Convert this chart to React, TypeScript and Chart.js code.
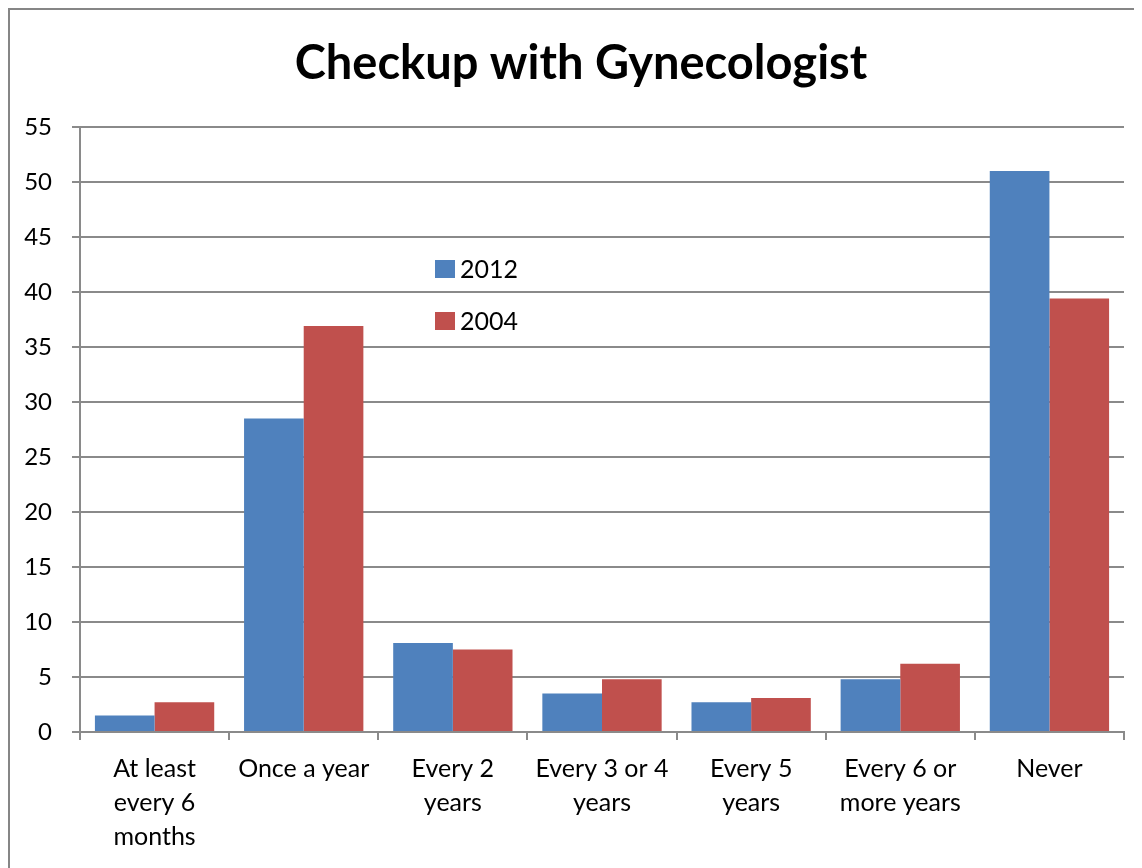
import React, { useEffect, useRef } from "react";
import { Chart, registerables } from "chart.js";

Chart.register(...registerables);

const chartTitle = "Checkup with Gynecologist";
const categories: string[][] = [
  ["At least", "every 6", "months"],
  ["Once a year"],
  ["Every 2", "years"],
  ["Every 3 or 4", "years"],
  ["Every 5", "years"],
  ["Every 6 or", "more years"],
  ["Never"],
];
const seriesNames = ["2012", "2004"];
const values2012 = [1.5, 28.5, 8.1, 3.5, 2.7, 4.8, 51.0];
const values2004 = [2.7, 36.9, 7.5, 4.8, 3.1, 6.2, 39.4];
const seriesColors = ["#4F81BD", "#C0504D"];
const yMin = 0;
const yMax = 55;
const yStep = 5;

const FONT = "Lato, 'Open Sans', sans-serif";
const GRID = "#8a8a8a";

const decorPlugin = {
  id: "decor",
  beforeDraw(chart: any) {
    const ctx = chart.ctx;
    ctx.save();
    ctx.fillStyle = "#ffffff";
    ctx.fillRect(0, 0, chart.width, chart.height);
    ctx.restore();
  },
  afterDraw(chart: any) {
    const ctx = chart.ctx;
    const area = chart.chartArea;
    ctx.save();
    // outer frame (only top & left edges are inside the picture)
    ctx.strokeStyle = "#868686";
    ctx.lineWidth = 2;
    ctx.beginPath();
    ctx.moveTo(1, chart.height);
    ctx.lineTo(1, 1);
    ctx.lineTo(chart.width, 1);
    ctx.stroke();
    // title
    ctx.fillStyle = "#000";
    ctx.font = `bold 47px ${FONT}`;
    ctx.textAlign = "center";
    ctx.textBaseline = "middle";
    ctx.fillText(chartTitle, 573, 56);
    // legend
    ctx.font = `25px ${FONT}`;
    ctx.textAlign = "left";
    chart.data.datasets.forEach((ds: any, i: number) => {
      const cy = area.top + 142 + i * 52;
      const bx = area.left + 355;
      ctx.fillStyle = ds.backgroundColor;
      ctx.fillRect(bx, cy - 9, 20, 18);
      ctx.fillStyle = "#000";
      ctx.fillText(ds.label, bx + 25, cy + 1);
    });
    ctx.restore();
  },
};

export default function App() {
  const ref = useRef<HTMLCanvasElement>(null);
  useEffect(() => {
    const prevOverflow = document.body.style.overflow;
    document.body.style.overflow = "hidden";
    if (!ref.current) return;
    const chart = new Chart(ref.current, {
      type: "bar",
      data: {
        labels: categories,
        datasets: [
          { label: seriesNames[0], data: values2012, backgroundColor: seriesColors[0] },
          { label: seriesNames[1], data: values2004, backgroundColor: seriesColors[1] },
        ],
      },
      options: {
        animation: false,
        responsive: false,
        layout: { padding: { top: 119, right: 10, left: 0, bottom: 0 } },
        datasets: { bar: { categoryPercentage: 0.8, barPercentage: 1 } },
        plugins: {
          legend: { display: false },
          title: { display: false },
          tooltip: { enabled: false },
        },
        scales: {
          x: {
            afterFit: (s: any) => { s.height = 136; },
            grid: {
              display: true,
              drawOnChartArea: false,
              drawTicks: true,
              tickLength: 8,
              color: GRID,
              lineWidth: 2,
              offset: true,
            },
            border: { color: GRID, width: 2 },
            ticks: {
              color: "#000",
              font: { family: FONT, size: 25, lineHeight: 1.36 },
              padding: 12,
              maxRotation: 0,
              autoSkip: false,
            },
          },
          y: {
            min: yMin,
            max: yMax,
            afterFit: (s: any) => { s.width = 72; },
            grid: { color: GRID, lineWidth: 2, tickLength: 8, drawTicks: true },
            border: { color: GRID, width: 2 },
            ticks: {
              stepSize: yStep,
              color: "#000",
              font: { family: FONT, size: 24 },
              padding: 20,
            },
          },
        },
      },
      plugins: [decorPlugin],
    });
    return () => {
      chart.destroy();
      document.body.style.overflow = prevOverflow;
    };
  }, []);
  return (
    <div style={{ width: 1126, height: 860, overflow: "hidden" }}>
      <canvas ref={ref} width={1126} height={860} style={{ display: "block" }} />
    </div>
  );
}
